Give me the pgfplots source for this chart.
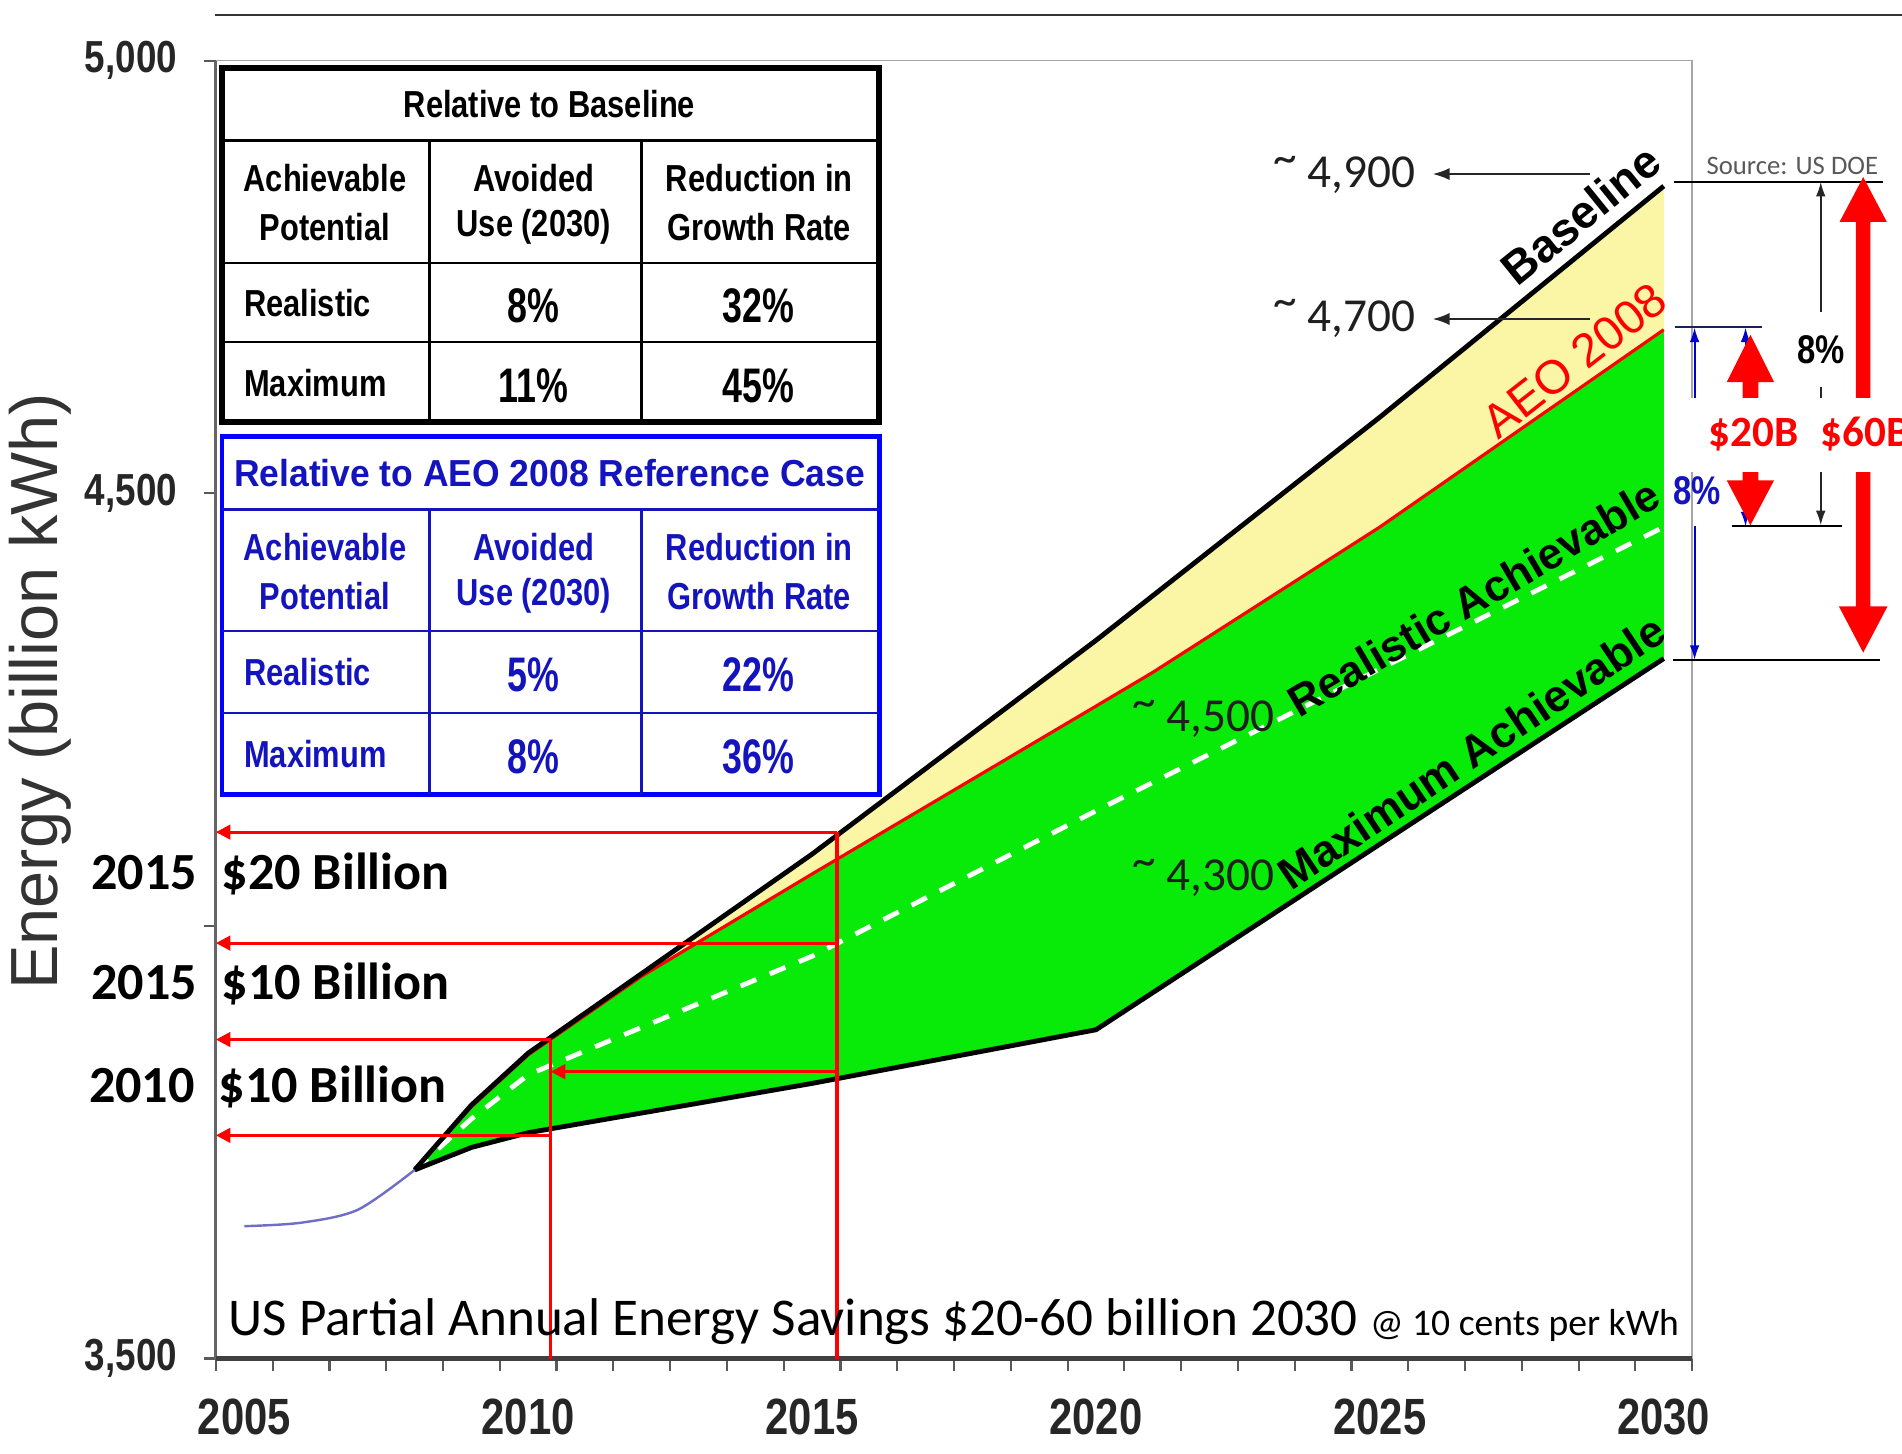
\documentclass[border=0pt]{standalone}
\usepackage{fontspec}
\usepackage{pgfplots}
\usepackage{pgfplotstable}
\pgfplotsset{compat=1.18}
\usepgfplotslibrary{fillbetween}
\usetikzlibrary{arrows.meta}
\setmainfont{Carlito}
\newfontfamily\arial{Liberation Sans}
\newfontfamily\narrow{Liberation Sans}[FakeStretch=0.82]
\newcommand\nb{\narrow\bfseries}
\newcommand\fs[1]{\fontsize{#1}{#1}\selectfont}
\definecolor{gfill}{RGB}{8,235,8}
\definecolor{yfill}{RGB}{250,246,165}
\definecolor{tblue}{RGB}{20,20,190}
\definecolor{bblue}{RGB}{0,0,255}
\definecolor{histc}{RGB}{110,110,200}

\pgfplotstableread{
x y
2005 3653
2006 3657
2007 3672
2008 3718
}\hist
\pgfplotstableread{
x y
2008 3718
2009 3793
2010 3853
2015 4083
2020 4330
2025 4588
2030 4855
}\base
\pgfplotstableread{
x y
2008 3718
2009 3791
2010 3851
2012 3942
2015 4060
2020 4254
2021 4293
2025 4461
2030 4689
}\aeo
\pgfplotstableread{
x y
2008 3718
2009 3777
2010 3828
2015 3965
2020 4133
2025 4297
2030 4461
}\real
\pgfplotstableread{
x y
2008 3718
2009 3744
2010 3761
2015 3818
2020 3880
2030 4309
}\maxa

\begin{document}
\begin{tikzpicture}
\begin{axis}[
  at={(89pt,39pt)}, anchor=south west,
  scale only axis, width=608.5pt, height=535pt,
  xmin=2004.5, xmax=2030.5, ymin=3500, ymax=5000,
  axis line style={draw opacity=0},
  clip=false,
  tick align=outside,
  xtick={2004.5,2005.5,...,2031}, xticklabels={},
  extra x ticks={2005,2010,2015,2020,2025,2030},
  extra x tick labels={2005,2010,2015,2020,2025,2030},
  extra x tick style={major tick length=0pt},
  ytick={3500,4000,4500,5000},
  yticklabels={{3,500},{},{4,500},{5,000}},
  xtick pos=left, ytick pos=left,
  major tick length=5pt,
  tick style={black!65, line width=0.9pt},
  x tick label style={font=\nb\fs{21}, text=black!85, yshift=-13pt},
  y tick label style={font=\nb\fs{18.5}, text=black!85, xshift=-7.5pt},
]
\addplot[name path=base, draw=none, forget plot] table {\base};
\addplot[name path=aeo, draw=none, forget plot] table {\aeo};
\addplot[name path=maxa, draw=none, forget plot] table {\maxa};
\addplot[yfill, forget plot] fill between[of=base and aeo];
\addplot[gfill, forget plot] fill between[of=aeo and maxa];
\addplot[red, line width=1.3pt] table {\aeo};
\addplot[white, line width=2pt, dash pattern=on 7pt off 6pt] table {\real};
\addplot[black, line width=2pt] table {\base};
\addplot[black, line width=2pt] table {\maxa};
\addplot[histc, line width=1pt, smooth] table {\hist};
\draw[black!35, line width=0.7pt] (rel axis cs:0,1) -- (rel axis cs:1,1) -- (rel axis cs:1,0);
\draw[black!60, line width=1.3pt] (rel axis cs:0,0) -- (rel axis cs:0,1);
\draw[black!75, line width=2pt] (rel axis cs:0,0) -- (rel axis cs:1,0);
\end{axis}

\begin{scope}[x=0.5pt,y=-0.5pt,shift={(0pt,599pt)}]
% top rule
\draw[black!80, line width=0.8pt] (177,12.4) -- (1568,12.4);
% y label
\node[rotate=90, font=\arial\fs{27.5}, text=black!80] at (33,570) {Energy (billion kWh)};

% black table
\fill[white] (183,56) rectangle (725,348);
\draw[line width=2.5pt] (183,56) rectangle (725,348);
\draw[line width=1pt] (183,116) -- (725,116) (183,217) -- (725,217) (183,282) -- (725,282)
  (354,116) -- (354,348) (529,116) -- (529,348);
\begin{scope}[every node/.style={inner sep=0, font=\nb\fs{15.5}}]
\node at (453,86) {Relative to Baseline};
\node at (268,147) {Achievable};
\node at (268,187) {Potential};
\node at (440,147) {Avoided};
\node at (440,187) {Use (2030)};
\node at (626,147) {Reduction in};
\node at (626,187) {Growth Rate};
\node[anchor=west] at (201,250) {Realistic};
\node[anchor=west] at (201,316) {Maximum};
\node[font=\nb\fs{20}] at (440,252) {\scalebox{0.9}[1]{8\%}};
\node[font=\nb\fs{20}] at (625,252) {\scalebox{0.9}[1]{32\%}};
\node[font=\nb\fs{20}] at (440,318) {\scalebox{0.9}[1]{11\%}};
\node[font=\nb\fs{20}] at (625,318) {\scalebox{0.9}[1]{45\%}};
\end{scope}

% blue table
\fill[white] (183,360) rectangle (725,655);
\draw[bblue, line width=2pt] (183,360) rectangle (725,655);
\draw[tblue, line width=1pt] (183,420) -- (725,420) (183,520) -- (725,520) (183,588) -- (725,588)
  (354,420) -- (354,655) (529,420) -- (529,655);
\begin{scope}[every node/.style={inner sep=0, font=\nb\fs{15.5}, text=tblue}]
\node at (453,390) {\scalebox{1.15}[1]{Relative to AEO 2008 Reference Case}};
\node at (268,451) {Achievable};
\node at (268,491) {Potential};
\node at (440,451) {Avoided};
\node at (440,491) {Use (2030)};
\node at (626,451) {Reduction in};
\node at (626,491) {Growth Rate};
\node[anchor=west] at (201,554) {Realistic};
\node[anchor=west] at (201,622) {Maximum};
\node[font=\nb\fs{20}] at (440,556) {\scalebox{0.9}[1]{5\%}};
\node[font=\nb\fs{20}] at (625,556) {\scalebox{0.9}[1]{22\%}};
\node[font=\nb\fs{20}] at (440,624) {\scalebox{0.9}[1]{8\%}};
\node[font=\nb\fs{20}] at (625,624) {\scalebox{0.9}[1]{36\%}};
\end{scope}

% red guide arrows
\begin{scope}[red, line width=1.25pt]
\draw[-{Triangle[length=6pt,width=6pt]}] (690,686) -- (178,686);
\draw[-{Triangle[length=6pt,width=6pt]}] (690,777.5) -- (178,777.5);
\draw[-{Triangle[length=6pt,width=6pt]}] (454,857) -- (178,857);
\draw[-{Triangle[length=6pt,width=6pt]}] (454,936) -- (178,936);
\draw[-{Triangle[length=6pt,width=6pt]}] (690,883.5) -- (454,883.5);
\draw (690,686) -- (690,1120);
\draw (454,857) -- (454,1120);
\end{scope}
\begin{scope}[every node/.style={anchor=base west, inner sep=0, font=\bfseries\fs{21.5}}]
\node at (75,733.4) {2015};
\node at (182.5,733.4) {\$20 Billion};
\node at (75,823.6) {2015};
\node at (182.5,823.6) {\$10 Billion};
\node at (73,908.5) {2010};
\node at (180,908.5) {\$10 Billion};
\end{scope}

% bottom caption
\node[anchor=base west, inner sep=0, font=\fs{21.9}] at (188,1101)
  {US Partial Annual Energy Savings \$20-60 billion 2030 {\fs{15.5}@ 10 cents per kWh}};

% curve labels
\node[rotate=39, font=\arial\bfseries\fs{19}] at (1303,177) {Baseline};
\node[rotate=38, font=\arial\fs{19.5}, text=red] at (1298,297) {AEO 2008};
\node[rotate=30.5, font=\arial\bfseries\fs{18}] at (1215,493) {Realistic Achievable};
\node[rotate=33.8, font=\arial\bfseries\fs{18.4}] at (1213,620) {Maximum Achievable};

% value labels
\begin{scope}[every node/.style={inner sep=0, font=\fs{19.5}, text=black!88}]
\node[anchor=base east] at (1167.4,154.6) {\raisebox{0.3em}{\textasciitilde}\ 4,900};
\node[anchor=base east] at (1167.4,273) {\raisebox{0.3em}{\textasciitilde}\ 4,700};
\node[anchor=base west] at (933,603) {\raisebox{0.3em}{\textasciitilde}\ 4,500};
\node[anchor=base west] at (933,734) {\raisebox{0.3em}{\textasciitilde}\ 4,300};
\end{scope}
\draw[-{Latex[length=7pt,width=5pt]}, line width=0.9pt, black!85] (1311,143.5) -- (1181,143.5);
\draw[-{Latex[length=7pt,width=5pt]}, line width=0.9pt, black!85] (1311,263) -- (1181,263);

% right-hand dimension marks
\draw[black, line width=0.8pt] (1380,150) -- (1552,150);
\node[anchor=base west, inner sep=0, font=\fs{11}, text=black!65] at (1406.5,144) {Source: US DOE};
\draw[color={rgb,255:red,30;green,30;blue,90}, line width=0.8pt] (1380.5,269.5) -- (1452.4,269.5);
\draw[black, line width=0.8pt] (1427.6,433.6) -- (1518.3,433.6);
\draw[black, line width=0.8pt] (1379,544) -- (1550,544);
\begin{scope}[bblue!80!black, line width=0.8pt]
\draw[-{Latex[length=6pt,width=4pt]}] (1397,328) -- (1397,270);
\draw[-{Latex[length=6pt,width=4pt]}] (1397,434) -- (1397,544);
\draw[-{Latex[length=6pt,width=4pt]}] (1439,328) -- (1439,270);
\draw[-{Latex[length=6pt,width=4pt]}] (1439,389) -- (1439,434);
\end{scope}
\begin{scope}[black!85, line width=0.7pt]
\draw[-{Latex[length=6pt,width=4pt]}] (1501,257) -- (1501,150);
\draw (1501,319) -- (1501,328);
\draw[-{Latex[length=6pt,width=4pt]}] (1501,389) -- (1501,433);
\end{scope}
\fill[red] (1443,276) -- (1462.5,315) -- (1449.5,315) -- (1449.5,396) -- (1462.5,396) -- (1443,433)
  -- (1423.5,396) -- (1436.5,396) -- (1436.5,315) -- (1423.5,315) -- cycle;
\fill[red] (1536,146) -- (1555.5,183) -- (1542,183) -- (1542,500) -- (1556,500) -- (1536,538)
  -- (1516,500) -- (1530,500) -- (1530,183) -- (1516.5,183) -- cycle;
\fill[white] (1392,328) rectangle (1580,389);
\node[anchor=base west, inner sep=0, font=\bfseries\fs{17.8}, text=red] at (1408,368) {\$20B};
\node[anchor=base west, inner sep=0, font=\bfseries\fs{17.8}, text=red] at (1500.6,368) {\$60B};
\node[inner sep=0, font=\nb\fs{16.5}, text=black] at (1501.5,288.5) {8\%};
\node[inner sep=0, font=\nb\fs{16.5}, text=tblue] at (1399,404.5) {8\%};

\pgfresetboundingbox
\path[use as bounding box] (0,0) rectangle (1568,1198);
\end{scope}
\end{tikzpicture}
\end{document}
